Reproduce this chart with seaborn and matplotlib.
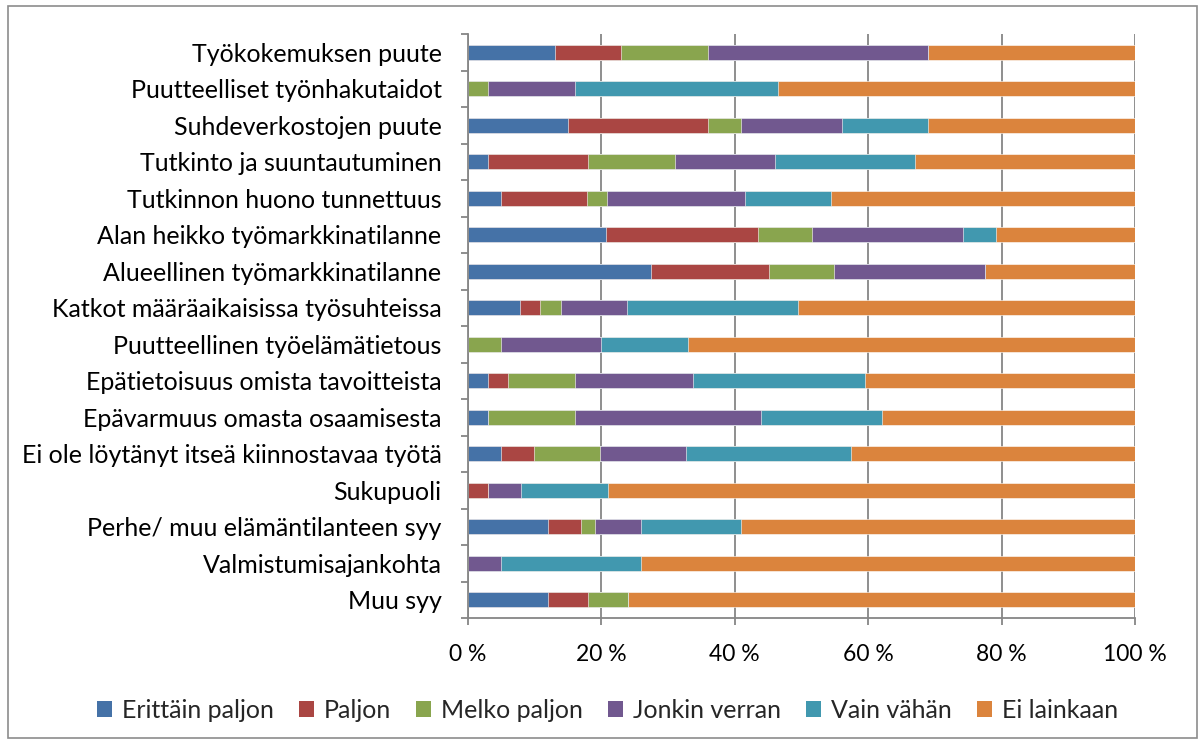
import pandas as pd
import matplotlib
matplotlib.use("Agg")
import matplotlib.pyplot as plt
import seaborn as sns
from matplotlib.patches import Patch, Rectangle
from matplotlib.ticker import FixedLocator, PercentFormatter


# data (percent of respondents)

categories = [
    "Työkokemuksen puute",
    "Puutteelliset työnhakutaidot",
    "Suhdeverkostojen puute",
    "Tutkinto ja suuntautuminen",
    "Tutkinnon huono tunnettuus",
    "Alan heikko työmarkkinatilanne",
    "Alueellinen työmarkkinatilanne",
    "Katkot määräaikaisissa työsuhteissa",
    "Puutteellinen työelämätietous",
    "Epätietoisuus omista tavoitteista",
    "Epävarmuus omasta osaamisesta",
    "Ei ole löytänyt itseä kiinnostavaa työtä",
    "Sukupuoli",
    "Perhe/ muu elämäntilanteen syy",
    "Valmistumisajankohta",
    "Muu syy",
]

erittain_paljon = [13, 0, 15, 3, 5, 20.7, 27.5, 7.8, 0, 3, 3, 4.9, 0, 12, 0, 12]
paljon = [10, 0, 21, 15, 12.8, 22.8, 17.6, 3, 0, 3, 0, 5, 3, 5, 0, 6]
melko_paljon = [13, 3, 5, 13, 3, 8, 9.8, 3.1, 5, 10, 13, 9.9, 0, 2, 0, 6]
jonkin_verran = [33, 13, 15, 15, 20.8, 22.7, 22.6, 9.9, 15, 17.8, 28, 12.9, 5, 7, 5, 0]
vain_vahan = [0, 30.5, 13, 21, 12.8, 5, 0, 25.7, 13, 25.7, 18, 24.7, 13, 15, 21, 0]
ei_lainkaan = [31, 53.5, 31, 33, 45.6, 20.8, 22.5, 50.5, 67, 40.5, 38, 42.6, 79, 59, 74, 76]

levels = ["Erittäin paljon", "Paljon", "Melko paljon", "Jonkin verran", "Vain vähän", "Ei lainkaan"]
colors = ["#4572A7", "#AA4643", "#89A54E", "#71588F", "#4198AF", "#DB843D"]

df = pd.DataFrame(
    dict(zip(levels, [erittain_paljon, paljon, melko_paljon, jonkin_verran, vain_vahan, ei_lainkaan])),
    index=categories,
)
cum = df.cumsum(axis=1)


# plot

sns.set_style("white")
plt.rcParams["font.family"] = ["Lato", "DejaVu Sans"]

fig = plt.figure(figsize=(12.03, 7.44), dpi=100)
ax = fig.add_axes([468 / 1203, 1 - 618 / 744, 667 / 1203, 584 / 744])

# stacked bars: draw cumulative totals from the longest to the shortest
for level, color in zip(reversed(levels), reversed(colors)):
    sns.barplot(
        x=cum[level].values, y=categories, orient="h", color=color,
        saturation=1, width=0.4, errorbar=None, ax=ax,
        edgecolor="white", linewidth=0.4,
    )

grid_col = "#868686"
ax.set_xlim(0, 100)
ax.set_ylim(15.5, -0.5)
ax.xaxis.set_major_locator(FixedLocator([0, 20, 40, 60, 80, 100]))
ax.xaxis.set_major_formatter(PercentFormatter(decimals=0, symbol=" %"))
ax.grid(axis="x", color=grid_col, linewidth=1.3)
ax.set_axisbelow(True)
ax.set_xlabel("")
ax.set_ylabel("")

for side in ["top", "right"]:
    ax.spines[side].set_visible(False)
for side in ["left", "bottom"]:
    ax.spines[side].set_color(grid_col)
    ax.spines[side].set_linewidth(1.3)

# Excel-like tick marks between categories
ax.tick_params(axis="y", which="major", length=0, pad=19, labelsize=18, labelcolor="black")
ax.yaxis.set_minor_locator(FixedLocator([i - 0.5 for i in range(len(categories) + 1)]))
ax.tick_params(axis="y", which="minor", left=True, length=5, width=1.3, color=grid_col, direction="out")
ax.tick_params(axis="x", which="major", bottom=True, length=5, width=1.3, color=grid_col,
               direction="out", pad=14, labelsize=16.5, labelcolor="black")

handles = [Patch(facecolor=c, edgecolor="none") for c in colors]
fig.legend(
    handles, levels, loc="center", bbox_to_anchor=(0.505, 1 - 710 / 744), ncol=6,
    frameon=False, fontsize=18, handlelength=0.6, handleheight=0.6,
    handletextpad=0.4, columnspacing=1.0,
)

fig.patches.append(Rectangle((8 / 1203, 6 / 744), 1189 / 1203, 732 / 744,
                             transform=fig.transFigure, fill=False,
                             edgecolor="#8c8c8c", linewidth=1.2))

fig.savefig("out.png", dpi=100)
plt.close(fig)
